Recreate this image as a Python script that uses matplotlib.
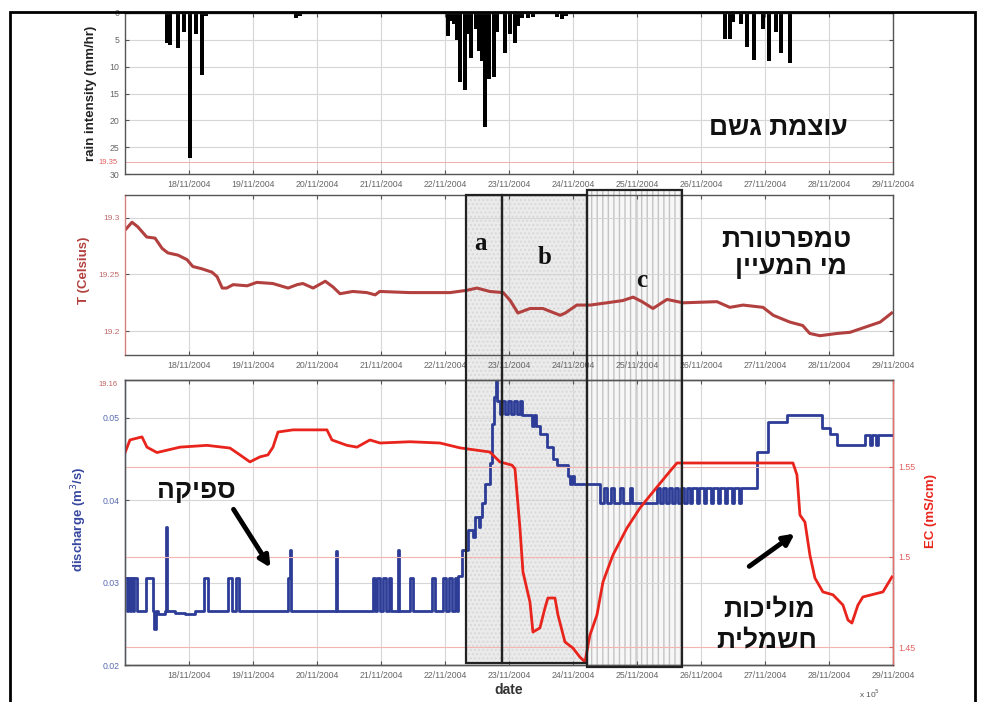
import matplotlib.pyplot as plt
import matplotlib.transforms as mtransforms
from matplotlib.patches import Rectangle, FancyArrowPatch

# --- data (x = day of November 2004) ---
day_ticks = list(range(18, 30))
day_labels = [f'{d}/11/2004' for d in day_ticks]

rain_t = [17.66, 17.70, 17.83, 17.92, 18.02, 18.11, 18.20, 18.27,
          19.67, 19.73,
          22.05, 22.11, 22.14, 22.19, 22.23, 22.31, 22.36, 22.41, 22.48, 22.53,
          22.58, 22.63, 22.69, 22.77, 22.81, 22.94, 23.02, 23.09, 23.14, 23.20,
          23.30, 23.38, 23.75, 23.83, 23.89,
          26.38, 26.45, 26.50, 26.63, 26.72, 26.83, 26.97, 27.06, 27.17, 27.25, 27.39]
rain_mm = [5.5, 6.0, 6.5, 3.5, 27.0, 4.0, 11.5, 0.5,
           1.0, 0.5,
           4.3, 1.5, 2.0, 5.0, 12.8, 14.3, 4.0, 8.3, 3.0, 7.0,
           9.0, 21.3, 12.3, 12.0, 3.6, 7.4, 4.0, 5.5, 2.4, 1.0,
           1.0, 0.8, 0.7, 1.2, 0.6,
           4.9, 4.9, 1.6, 2.0, 6.4, 8.7, 3.0, 9.0, 3.6, 7.4, 9.3]

temp_t = [17.00, 17.11, 17.20, 17.34, 17.47, 17.58, 17.67, 17.83, 17.97, 18.06,
          18.20, 18.36, 18.44, 18.52, 18.59, 18.69, 18.91, 19.06, 19.31, 19.55,
          19.69, 19.78, 19.94, 20.13, 20.25, 20.36, 20.56, 20.78, 20.91, 20.98,
          21.45, 22.08, 22.34, 22.50, 22.70, 22.91, 23.02, 23.14, 23.33, 23.53,
          23.80, 23.88, 24.06, 24.27, 24.53, 24.78, 24.94, 25.08, 25.25, 25.47,
          25.72, 26.25, 26.45, 26.66, 26.97, 27.13, 27.39, 27.59, 27.70, 27.86,
          28.13, 28.33, 28.59, 28.80, 28.98]
temp_c = [19.289, 19.296, 19.292, 19.283, 19.282, 19.273, 19.269, 19.267, 19.263, 19.257,
          19.255, 19.252, 19.248, 19.238, 19.238, 19.241, 19.240, 19.243, 19.242, 19.238,
          19.241, 19.242, 19.238, 19.244, 19.239, 19.233, 19.235, 19.234, 19.232, 19.235,
          19.234, 19.234, 19.236, 19.238, 19.235, 19.234, 19.227, 19.216, 19.220, 19.220,
          19.214, 19.216, 19.223, 19.223, 19.225, 19.227, 19.230, 19.226, 19.220, 19.228,
          19.225, 19.226, 19.221, 19.223, 19.221, 19.214, 19.208, 19.205, 19.198, 19.196,
          19.198, 19.199, 19.204, 19.208, 19.216]

q_t = [17.000, 17.031, 17.047, 17.078, 17.094, 17.125, 17.141, 17.188, 17.219, 17.328,
       17.438, 17.453, 17.484, 17.516, 17.625, 17.641, 17.664, 17.781, 17.938, 18.094,
       18.234, 18.297, 18.609, 18.672, 18.734, 18.781, 19.547, 19.578, 19.602, 20.297,
       20.320, 20.875, 20.906, 20.938, 20.984, 21.031, 21.078, 21.125, 21.156, 21.266,
       21.289, 21.453, 21.500, 21.797, 21.844, 21.969, 22.016, 22.063, 22.109, 22.156,
       22.188, 22.203, 22.266, 22.359, 22.438, 22.469, 22.531, 22.547, 22.578, 22.625,
       22.703, 22.734, 22.766, 22.797, 22.813, 22.859, 22.891, 22.938, 22.984, 23.031,
       23.078, 23.125, 23.172, 23.203, 23.359, 23.391, 23.422, 23.484, 23.594, 23.688,
       23.750, 23.922, 23.953, 23.984, 24.016, 24.422, 24.484, 24.531, 24.594, 24.641,
       24.734, 24.781, 24.891, 24.922, 25.313, 25.359, 25.406, 25.453, 25.500, 25.547,
       25.594, 25.641, 25.688, 25.734, 25.781, 25.828, 25.859, 25.938, 25.969, 26.047,
       26.078, 26.156, 26.188, 26.266, 26.297, 26.375, 26.406, 26.484, 26.516, 26.594,
       26.625, 26.875, 27.047, 27.344, 27.891, 28.016, 28.125, 28.563, 28.641, 28.672,
       28.734, 28.766, 28.984]
q_m3s = [0.0306, 0.0265, 0.0306, 0.0265, 0.0306, 0.0265, 0.0306, 0.0265, 0.0265, 0.0306,
         0.0265, 0.0244, 0.0265, 0.0262, 0.0266, 0.0368, 0.0265, 0.0263, 0.0262, 0.0265,
         0.0306, 0.0265, 0.0306, 0.0265, 0.0306, 0.0265, 0.0306, 0.0340, 0.0265, 0.0338,
         0.0265, 0.0306, 0.0265, 0.0306, 0.0265, 0.0306, 0.0265, 0.0306, 0.0265, 0.0340,
         0.0265, 0.0306, 0.0265, 0.0306, 0.0265, 0.0306, 0.0265, 0.0306, 0.0265, 0.0306,
         0.0265, 0.0308, 0.0340, 0.0364, 0.0355, 0.0380, 0.0368, 0.0380, 0.0397, 0.0420,
         0.0445, 0.0493, 0.0525, 0.0545, 0.0520, 0.0505, 0.0520, 0.0505, 0.0520, 0.0505,
         0.0520, 0.0505, 0.0520, 0.0504, 0.0490, 0.0504, 0.0490, 0.0480, 0.0465, 0.0450,
         0.0443, 0.0430, 0.0420, 0.0430, 0.0420, 0.0397, 0.0415, 0.0397, 0.0415, 0.0397,
         0.0415, 0.0397, 0.0415, 0.0397, 0.0415, 0.0397, 0.0415, 0.0397, 0.0415, 0.0397,
         0.0415, 0.0397, 0.0415, 0.0397, 0.0415, 0.0397, 0.0415, 0.0397, 0.0415, 0.0397,
         0.0415, 0.0397, 0.0415, 0.0397, 0.0415, 0.0397, 0.0415, 0.0397, 0.0415, 0.0397,
         0.0415, 0.0459, 0.0495, 0.0504, 0.0488, 0.0480, 0.0467, 0.0479, 0.0467, 0.0479,
         0.0467, 0.0479, 0.0479]

ec_t = [17.000, 17.078, 17.266, 17.344, 17.500, 17.859, 18.281, 18.641, 18.797, 18.953,
        19.109, 19.234, 19.313, 19.391, 19.625, 20.156, 20.234, 20.469, 20.625, 20.828,
        20.984, 21.453, 21.922, 22.234, 22.703, 22.859, 23.047, 23.094, 23.172, 23.219,
        23.328, 23.375, 23.484, 23.563, 23.609, 23.719, 23.766, 23.875, 24.000, 24.109,
        24.188, 24.266, 24.375, 24.469, 24.625, 24.844, 25.047, 25.250, 25.469, 25.625,
        27.438, 27.500, 27.547, 27.625, 27.703, 27.781, 27.906, 28.063, 28.219, 28.297,
        28.359, 28.453, 28.531, 28.844, 28.984]
ec_mscm = [1.5578, 1.5650, 1.5667, 1.5610, 1.5580, 1.5610, 1.5620, 1.5605, 1.5567, 1.5528,
           1.5556, 1.5567, 1.5610, 1.5694, 1.5706, 1.5706, 1.5650, 1.5620, 1.5610, 1.5650,
           1.5633, 1.5640, 1.5633, 1.5606, 1.5583, 1.5528, 1.5510, 1.5490, 1.5160, 1.4917,
           1.4750, 1.4583, 1.4606, 1.4717, 1.4772, 1.4772, 1.4678, 1.4528, 1.4494, 1.4444,
           1.4417, 1.4567, 1.4678, 1.4861, 1.5011, 1.5161, 1.5272, 1.5361, 1.5456, 1.5522,
           1.5522, 1.5456, 1.5233, 1.5194, 1.5010, 1.4883, 1.4806, 1.4790, 1.4733, 1.4650,
           1.4633, 1.4733, 1.4778, 1.4806, 1.4889]

period_names = ['a', 'b', 'c']
period_start = [22.33, 22.89, 24.22]
period_end = [22.89, 24.22, 25.70]

# --- style ---
plt.rcParams['font.family'] = ['Liberation Sans', 'DejaVu Sans']
GRID = '#d6d6d6'
TICK = '#666666'
T_RED = '#b2403e'
Q_BLUE = '#2c3c97'
EC_RED = '#e8241c'

fig = plt.figure(figsize=(9.87, 7.02), dpi=100)
ax1 = fig.add_axes([0.1266, 0.7521, 0.7781, 0.2294])
ax2 = fig.add_axes([0.1266, 0.4943, 0.7781, 0.2279])
ax3 = fig.add_axes([0.1266, 0.0527, 0.7781, 0.4060])
ax4 = ax3.twinx()

for ax in (ax1, ax2, ax3, ax4):
    ax.set_facecolor('none')
    ax.set_xlim(17, 29)
    for s in ax.spines.values():
        s.set_color('#555555')
        s.set_linewidth(1.0)

for ax in (ax1, ax2, ax3):
    ax.set_xticks(day_ticks)
    ax.set_xticklabels(day_labels)
    ax.grid(True, color=GRID, lw=0.8)
    ax.set_axisbelow(True)
    ax.tick_params(axis='both', direction='in', length=3, labelsize=6.3,
                   labelcolor=TICK, color='#555555', pad=4, top=True)
for ax in (ax1, ax2):
    ax.tick_params(axis='y', right=True)

# rain
ax1.bar(rain_t, rain_mm, width=0.06, color='black', align='center')
ax1.set_ylim(30, 0)
ax1.set_yticks(range(0, 31, 5))
ax1.axhline(27.8, color='#f2a0a0', lw=0.6)
ax1.set_ylabel('rain intensity (mm/hr)', fontsize=9.5, fontweight='bold', color='#222222')
ax1.yaxis.set_label_coords(-0.036, 0.5)

# temperature
ax2.plot(temp_t, temp_c, color=T_RED, lw=2.2)
ax2.set_ylim(19.179, 19.32)
ax2.set_yticks([19.2, 19.25, 19.3])
ax2.set_yticklabels(['19.2', '19.25', '19.3'])
ax2.tick_params(axis='y', labelcolor='#c06a6a', labelsize=6)
ax2.spines['left'].set_color('#d98080')
ax2.set_ylabel('T (Celsius)', fontsize=9.5, fontweight='bold', color=T_RED)
ax2.yaxis.set_label_coords(-0.046, 0.53)

# discharge + EC
ax3.plot(q_t, q_m3s, color=Q_BLUE, lw=2.0, drawstyle='steps-post')
ax3.set_ylim(0.02, 0.0546)
ax3.set_yticks([0.02, 0.03, 0.04, 0.05])
ax3.set_yticklabels(['0.02', '0.03', '0.04', '0.05'])
ax3.tick_params(axis='y', labelcolor='#5a6cb0', right=False)
ax3.spines['left'].set_color('#7c8cc8')
ax3.set_ylabel('discharge (m$^3$/s)', fontsize=9.5, fontweight='bold', color='#3848a0')
ax3.yaxis.set_label_coords(-0.047, 0.51)
ax3.set_xlabel('date', fontsize=10, fontweight='bold', color='#333333')
ax3.xaxis.set_label_coords(0.5, -0.063)

ax4.plot(ec_t, ec_mscm, color=EC_RED, lw=2.0)
ax4.set_ylim(1.44, 1.5983)
ax4.set_yticks([1.45, 1.5, 1.55])
ax4.set_yticklabels(['1.45', '1.5', '1.55'])
ax4.grid(True, axis='y', color='#f4b4b4', lw=0.8)
ax4.tick_params(axis='y', direction='in', length=3, labelsize=6.3,
                labelcolor='#e06060', color='#e06060', pad=4)
ax4.spines['right'].set_color('#e87070')
ax4.set_ylabel('EC (mS/cm)', fontsize=9.5, fontweight='bold', color=EC_RED)
ax4.yaxis.set_label_coords(1.042, 0.54)

# analysis periods a, b, c spanning middle and bottom panels
btr = mtransforms.blended_transform_factory(ax3.transData, fig.transFigure)
box_top = [0.7222, 0.7222, 0.7293]
box_bot = [0.0556, 0.0556, 0.0499]
for i, name in enumerate(period_names):
    w = period_end[i] - period_start[i]
    h = box_top[i] - box_bot[i]
    if name == 'c':
        fill = Rectangle((period_start[i], box_bot[i]), w, h, transform=btr,
                         facecolor='#f7f7f7', edgecolor='#c4c4c4', hatch='|||', lw=0, zorder=-1)
    else:
        fill = Rectangle((period_start[i], box_bot[i]), w, h, transform=btr,
                         facecolor='#ebebeb', edgecolor='#d9d9d9', hatch='....', lw=0, zorder=-1)
    fig.add_artist(fill)
    fig.add_artist(Rectangle((period_start[i], box_bot[i]), w, h, transform=btr,
                             fill=False, edgecolor='#222222', lw=1.6, zorder=10))

for name, (x, y) in zip(period_names, [(0.4873, 0.6538), (0.5522, 0.6339), (0.6505, 0.6011)]):
    fig.text(x, y, name, family=['Liberation Serif', 'DejaVu Serif'], fontweight='bold',
             fontsize=18, ha='center', va='center', color='#111111')

# Hebrew captions (reversed for left-to-right rendering)
def heb(s):
    return s[::-1]

hfont = dict(family=['Liberation Sans', 'DejaVu Sans'], fontweight='bold',
             fontsize=19, ha='center', va='center', color='#111111')
fig.text(0.7883, 0.8177, heb('עוצמת גשם'), **hfont)
fig.text(0.7964, 0.6580, heb('טמפרטורת'), **hfont)
fig.text(0.8014, 0.6190, heb('מי המעיין'), **hfont)
fig.text(0.1986, 0.3006, heb('ספיקה'), **hfont)
fig.text(0.7791, 0.1320, heb('מוליכות'), **hfont)
fig.text(0.7771, 0.0883, heb('חשמלית'), **hfont)

for tail, head in [((0.2351, 0.2778), (0.2756, 0.1880)), ((0.7568, 0.1909), (0.8075, 0.2422))]:
    fig.add_artist(FancyArrowPatch(tail, head, transform=fig.transFigure, arrowstyle='-|>',
                                   mutation_scale=16, lw=3.5, color='black', zorder=11))

# stray labels of the original figure
fig.text(0.1094, 1 - 162 / 702, '19.35', fontsize=5.5, color='#e06060', ha='center', va='center')
fig.text(0.1094, 1 - 384 / 702, '19.16', fontsize=5.5, color='#c06060', ha='center', va='center')
fig.text(0.8815, 1 - 694 / 702, 'x 10$^5$', fontsize=6, color='#555555', ha='center', va='center')

# outer frame
fig.add_artist(Rectangle((0.0101, -0.02), 0.9777, 1.0029, transform=fig.transFigure,
                         fill=False, edgecolor='black', lw=2.0, zorder=12))

fig.savefig('out.png', dpi=100)
